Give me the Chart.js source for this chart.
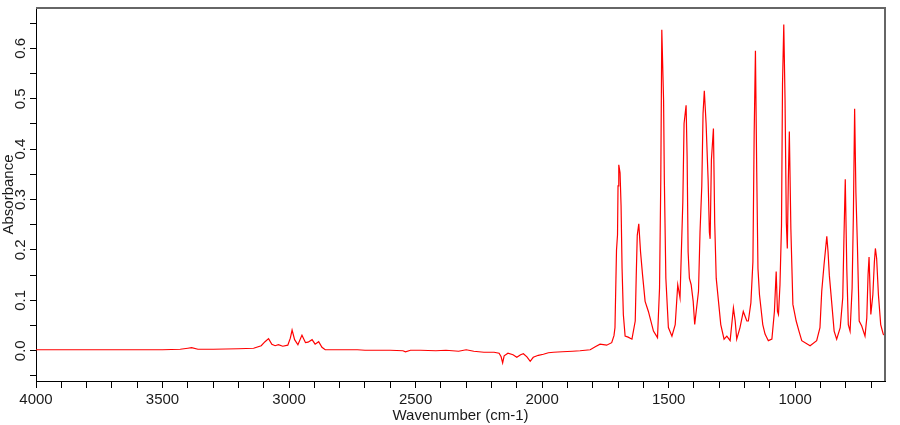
<!DOCTYPE html>
<html lang="en"><head>
<meta charset="utf-8"/>
<title>Absorbance spectrum</title>
<script src="https://cdn.jsdelivr.net/npm/chart.js"></script>
<style>
        body { margin: 0; background: #fff; }
        #wrap { width: 900px; height: 425px; }
    </style>
</head>
<body>
<div id="wrap"><canvas id="spectrum" width="900" height="425"></canvas></div>
<script>
        // wavenumber (cm-1)
        const wavenumbers = [
            4000, 3900, 3800, 3700, 3600, 3500, 3430, 3400, 3385, 3360, 3300, 3200, 3140, 3110, 3095,
            3081, 3068, 3055, 3042, 3025, 3005, 2995, 2988, 2978, 2965, 2949, 2935, 2925, 2909, 2897,
            2883, 2870, 2857, 2800, 2730, 2700, 2600, 2550, 2540, 2520, 2480, 2420, 2380, 2330, 2300,
            2270, 2230, 2190, 2170, 2162, 2156, 2150, 2135, 2115, 2100, 2085, 2074, 2060, 2047, 2035,
            2015, 1995, 1975, 1955, 1920, 1880, 1850, 1810, 1790, 1771, 1745, 1725, 1716, 1712, 1706,
            1702, 1700, 1697, 1692, 1688, 1684, 1679, 1672, 1660, 1645, 1632, 1628, 1624, 1618, 1611,
            1603, 1593, 1580, 1560, 1544, 1536, 1531, 1527, 1520, 1517, 1511, 1501, 1487, 1474, 1464,
            1455, 1444, 1439, 1431, 1427, 1423, 1418, 1411, 1403, 1397, 1382, 1376, 1369, 1364, 1359,
            1352, 1344, 1339, 1336, 1331, 1323, 1318, 1312, 1303, 1294, 1281, 1270, 1257, 1248, 1244,
            1237, 1231, 1218, 1205, 1191, 1185, 1175, 1167, 1162, 1157, 1152, 1147, 1141, 1128, 1119,
            1106, 1092, 1082, 1075, 1070, 1066, 1060, 1054, 1050, 1045, 1040, 1035, 1031, 1027, 1023,
            1017, 1009, 996, 985, 974, 941, 915, 902, 895, 886, 875, 870, 865, 855, 846,
            836, 822, 812, 807, 802, 796, 790, 783, 775, 770, 765, 760, 754, 747, 737,
            724, 717, 712, 708, 701, 693, 687, 683, 678, 671, 662, 652, 645
        ];
        const absorbance = [
            0.002, 0.002, 0.002, 0.002, 0.002, 0.002, 0.003, 0.005, 0.006, 0.003, 0.003, 0.004, 0.005, 0.010, 0.018,
            0.024, 0.013, 0.010, 0.012, 0.009, 0.011, 0.025, 0.041, 0.022, 0.012, 0.031, 0.016, 0.017, 0.022, 0.013,
            0.018, 0.007, 0.002, 0.002, 0.002, 0.001, 0.001, 0.000, -0.002, 0.001, 0.001, 0.000, 0.001, -0.001, 0.002,
            -0.001, -0.003, -0.003, -0.005, -0.012, -0.024, -0.010, -0.005, -0.008, -0.013, -0.008, -0.006, -0.012, -0.021, -0.013,
            -0.009, -0.007, -0.004, -0.003, -0.002, -0.001, 0.000, 0.002, 0.008, 0.013, 0.011, 0.016, 0.030, 0.046, 0.200,
            0.230, 0.327, 0.369, 0.353, 0.288, 0.163, 0.072, 0.029, 0.027, 0.023, 0.059, 0.150, 0.229, 0.252, 0.196,
            0.150, 0.098, 0.078, 0.039, 0.026, 0.124, 0.340, 0.637, 0.497, 0.340, 0.144, 0.046, 0.029, 0.052, 0.131,
            0.105, 0.294, 0.451, 0.487, 0.386, 0.196, 0.144, 0.131, 0.098, 0.052, 0.118, 0.235, 0.327, 0.471, 0.516,
            0.451, 0.340, 0.235, 0.222, 0.379, 0.441, 0.255, 0.144, 0.098, 0.052, 0.023, 0.029, 0.020, 0.065, 0.085,
            0.059, 0.023, 0.046, 0.078, 0.059, 0.059, 0.095, 0.176, 0.431, 0.595, 0.359, 0.163, 0.111, 0.052, 0.033,
            0.020, 0.023, 0.078, 0.157, 0.078, 0.072, 0.131, 0.248, 0.529, 0.647, 0.497, 0.255, 0.203, 0.340, 0.435,
            0.242, 0.092, 0.059, 0.039, 0.020, 0.010, 0.020, 0.046, 0.118, 0.170, 0.227, 0.196, 0.150, 0.092, 0.039,
            0.023, 0.046, 0.105, 0.229, 0.340, 0.163, 0.052, 0.039, 0.124, 0.268, 0.480, 0.314, 0.209, 0.059, 0.049,
            0.029, 0.065, 0.150, 0.186, 0.072, 0.111, 0.176, 0.203, 0.183, 0.111, 0.052, 0.033, 0.030
        ];
        // axis ranges and labelled ticks
        const xRange = [645, 4000];
        const yRange = [-0.06, 0.68];
        const xLabelEvery = 500;
        const yLabelEvery = 0.1;

        Chart.defaults.font.family = "'Liberation Sans', Arial, sans-serif";
        Chart.defaults.font.size = 15;
        Chart.defaults.color = '#1a1a1a';

        // grey frame on top and right, like the original software
        const frame = {
            id: 'frame',
            afterDraw(chart) {
                const { ctx, chartArea: a } = chart;
                ctx.save();
                ctx.strokeStyle = '#666';
                ctx.lineWidth = 2;
                ctx.beginPath();
                ctx.moveTo(a.left, a.top);
                ctx.lineTo(a.right, a.top);
                ctx.lineTo(a.right, a.bottom);
                ctx.stroke();
                ctx.restore();
            }
        };

        const points = wavenumbers.map((w, i) => ({ x: w, y: absorbance[i] }));

        new Chart(document.getElementById('spectrum').getContext('2d'), {
            type: 'line',
            data: {
                datasets: [{
                    data: points,
                    borderColor: '#ff0000',
                    borderWidth: 1.2,
                    pointRadius: 0,
                    tension: 0,
                    fill: false
                }]
            },
            options: {
                responsive: false,
                animation: false,
                layout: { padding: { left: 0, right: 15, top: 3, bottom: 0 } },
                plugins: { legend: { display: false }, tooltip: { enabled: false } },
                scales: {
                    x: {
                        type: 'linear',
                        reverse: true,
                        min: xRange[0],
                        max: xRange[1],
                        afterFit(s) { s.height = 44; },
                        border: { display: true, color: '#000', width: 1 },
                        grid: { drawOnChartArea: false, drawTicks: true, tickLength: 7, color: '#000' },
                        ticks: {
                            stepSize: 100,
                            includeBounds: false,
                            autoSkip: false,
                            minRotation: 0,
                            maxRotation: 0,
                            padding: 3,
                            callback: v => (v % xLabelEvery === 0 ? String(v) : '')
                        },
                        title: { display: true, text: 'Wavenumber (cm-1)', padding: { top: 0, bottom: 0 } }
                    },
                    y: {
                        min: yRange[0],
                        max: yRange[1],
                        afterFit(s) { s.width = 36; },
                        border: { display: true, color: '#000', width: 1 },
                        grid: { drawOnChartArea: false, drawTicks: true, tickLength: 6, color: '#000' },
                        ticks: {
                            stepSize: 0.05,
                            includeBounds: false,
                            autoSkip: false,
                            minRotation: 90,
                            maxRotation: 90,
                            crossAlign: 'center',
                            padding: -1,
                            callback: v => {
                                const k = v / yLabelEvery;
                                return Math.abs(k - Math.round(k)) < 1e-6 ? (Math.round(k) * yLabelEvery).toFixed(1) : '';
                            }
                        },
                        title: { display: true, text: 'Absorbance', padding: { top: 0, bottom: 0 } }
                    }
                }
            },
            plugins: [frame]
        });
    </script>
</body></html>
